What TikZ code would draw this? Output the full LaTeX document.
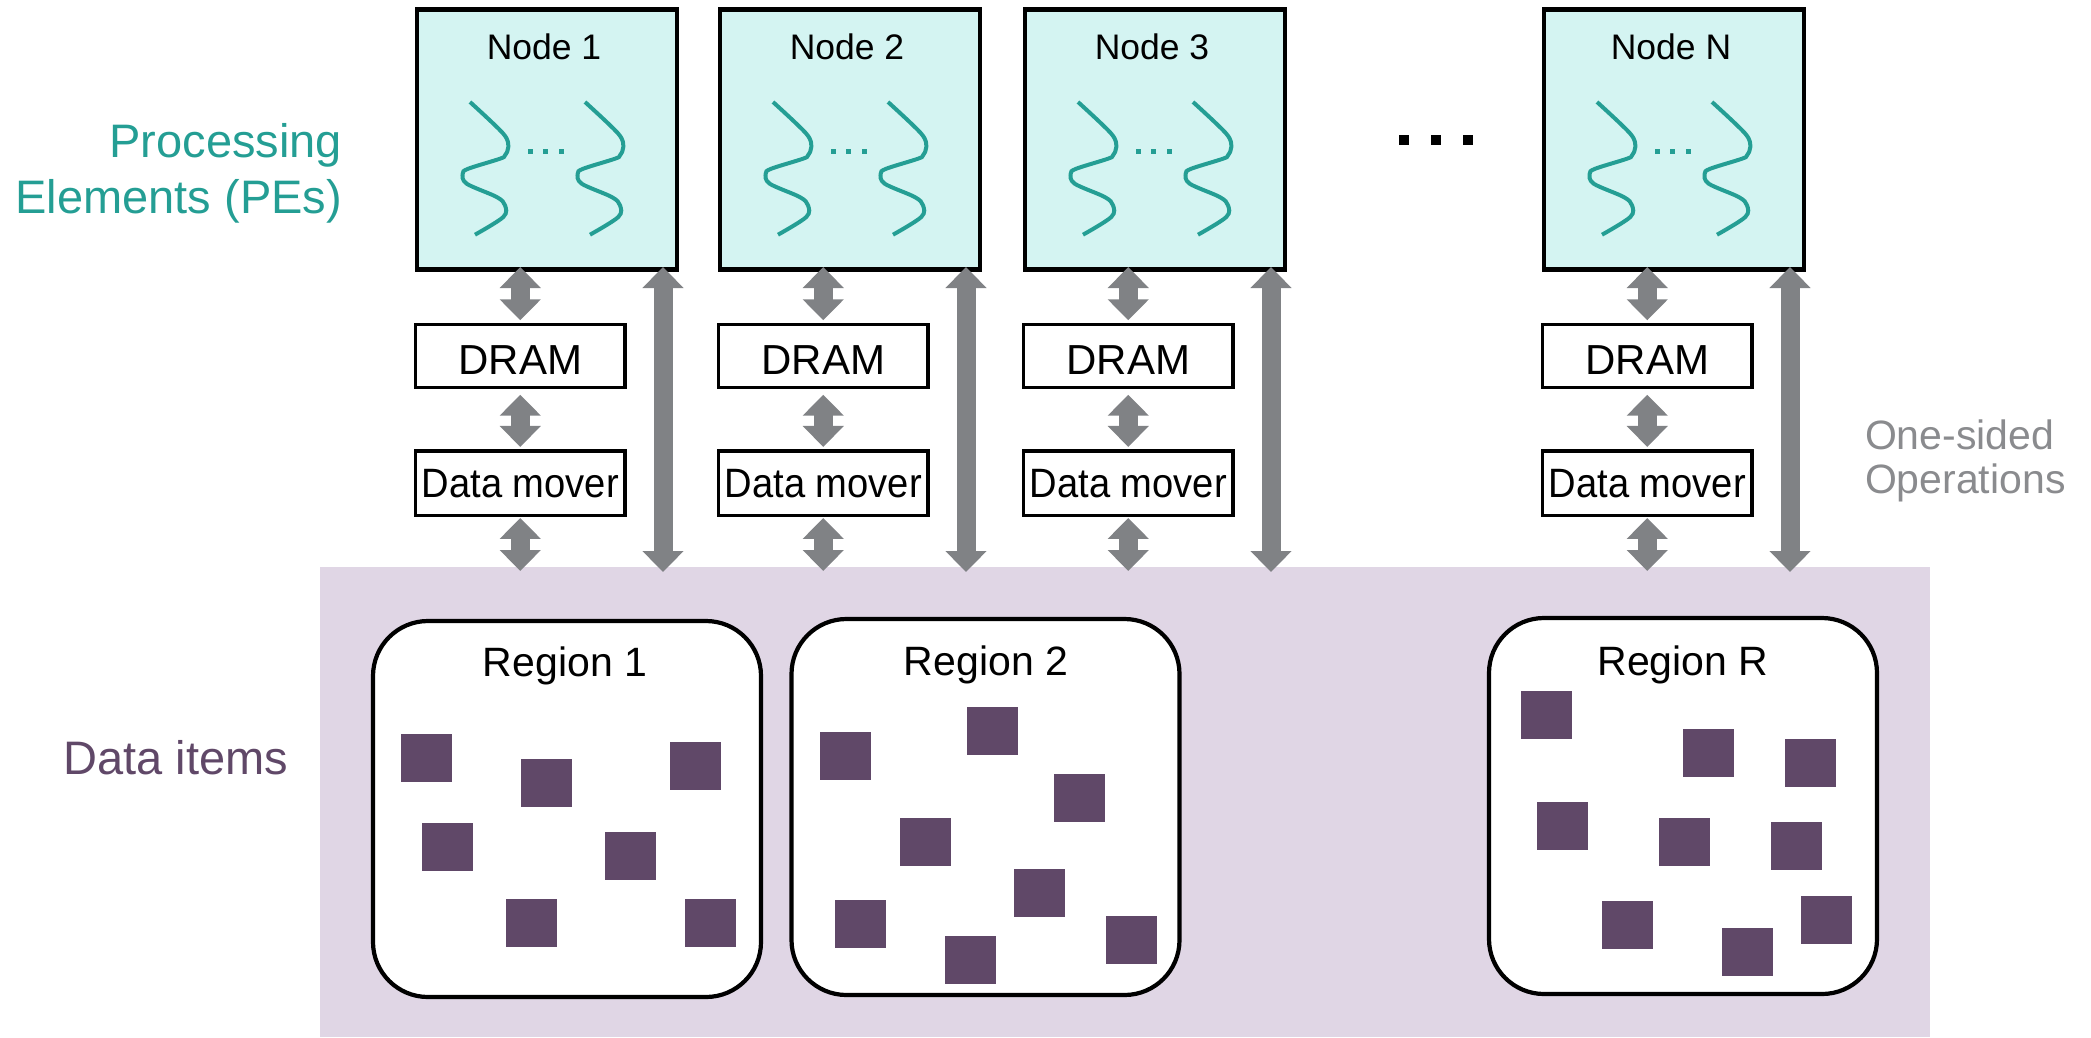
\documentclass[tikz,border=0pt]{standalone}
\usepackage{fontspec}
\usepackage{graphicx}
\setmainfont{Liberation Sans}
\usetikzlibrary{arrows.meta}
\definecolor{tealc}{RGB}{36,158,148}
\definecolor{pefill}{RGB}{212,244,242}
\definecolor{bgc}{RGB}{224,214,229}
\definecolor{itemc}{RGB}{96,72,104}
\definecolor{arrowc}{RGB}{128,130,133}
\definecolor{opc}{RGB}{138,139,142}
\begin{document}
\begin{tikzpicture}[x=1pt,y=-1pt,
 pebox/.style={draw=black, line width=4.5pt, fill=pefill, minimum width=260pt, minimum height=260pt, inner sep=0pt, outer sep=0pt},
 membox/.style={draw=black, line width=3.5pt, fill=white, minimum width=209.5pt, inner sep=0pt, outer sep=0pt},
 regionbox/.style={draw=black, line width=4.2pt, fill=white, rounded corners=55pt, minimum width=388pt, minimum height=376pt, inner sep=0pt, outer sep=0pt},
 txt/.style={inner sep=0pt, outer sep=0pt},
 dbl/.style={draw=arrowc, line width=19pt, {Triangle[width=40pt,length=21pt]}-{Triangle[width=40pt,length=21pt]}},
 wave/.style={draw=tealc, line width=4pt},
 item/.style={fill=itemc},
]
\useasboundingbox (0,0) rectangle (2091,1037);
% background band of data items
\node[fill=bgc, minimum width=1610pt, minimum height=470pt, inner sep=0pt, outer sep=0pt, anchor=north west] (bg) at (320,567) {};

% side labels
\node[txt, anchor=base east, text=tealc, font=\fontsize{47}{56}\selectfont] (pel1) at (342,157) {Processing};
\node[txt, anchor=base east, text=tealc, font=\fontsize{47}{56}\selectfont] (pel2) at (342,213) {Elements (PEs)};
\node[txt, anchor=base east, text=itemc, font=\fontsize{47}{56}\selectfont] (dil) at (288,774) {Data items};
\node[txt, anchor=base west, text=opc, font=\fontsize{41}{44}\selectfont] (op1) at (1865,449) {One-sided};
\node[txt, anchor=base west, text=opc, font=\fontsize{41}{44}\selectfont] (op2) at (1865,493) {Operations};

% big ellipsis between node 3 and node N
\fill (1399,135) rectangle +(10,10);
\fill (1431,135) rectangle +(10,10);
\fill (1463,135) rectangle +(10,10);

\foreach \i/\L in {1/415,2/718,3/1023,N/1542}{
  \node[pebox] (pe\i) at (\L+132,139.5) {};
  \node[txt, anchor=base, font=\fontsize{35.5}{40}\selectfont] (pet\i) at (\L+129,59) {Node \i};
  \draw[wave, shift={(\L+55,102)}] plot[smooth,tension=0.55] coordinates {(0,0) (33.3,31.7) (38.3,45) (35,53.3) (30,56.7) (-1.7,66.7) (-7.3,71.7) (-3.3,81.7) (26.7,95) (35,103.3) (33.3,115) (5,132.7)};
  \draw[wave, shift={(\L+170,102)}] plot[smooth,tension=0.55] coordinates {(0,0) (33.3,31.7) (38.3,45) (35,53.3) (30,56.7) (-1.7,66.7) (-7.3,71.7) (-3.3,81.7) (26.7,95) (35,103.3) (33.3,115) (5,132.7)};
  \fill[tealc] (\L+113.2,148.5) rectangle +(5,5);
  \fill[tealc] (\L+128.2,148.5) rectangle +(5,5);
  \fill[tealc] (\L+143.5,148.5) rectangle +(5,5);
  \node[membox, minimum height=63.4pt, text height=37pt, font=\fontsize{42}{48}\selectfont] (dram\i) at (\L+105.25,356) {DRAM};
  \node[membox, minimum height=64.7pt, font=\fontsize{41}{48}\selectfont] (dm\i) at (\L+105.25,483.3) {\scalebox{0.93}[1]{Data mover}};
  \coordinate (la\i) at ([xshift=-14pt]pe\i.south east);
  \draw[dbl, shorten <=-2.5pt, shorten >=4pt] (dram\i.north |- pe\i.south) -- (dram\i.north);
  \draw[dbl, shorten <=7pt, shorten >=4pt] (dram\i.south) -- (dm\i.north);
  \draw[dbl, shorten <=2.3pt, shorten >=-4pt] (dm\i.south) -- (dm\i.south |- bg.north);
  \draw[dbl, shorten <=-2.5pt, shorten >=-5pt] (la\i) -- (la\i |- bg.north);
}

% regions
\node[regionbox] (reg1) at (567,809) {};
\node[regionbox] (reg2) at (985.5,807) {};
\node[regionbox] (regR) at (1683,806) {};
\node[txt, anchor=base, font=\fontsize{41}{48}\selectfont] (regt1) at (565,676) {Region 1};
\node[txt, anchor=base, font=\fontsize{41}{48}\selectfont] (regt2) at (986,675) {Region 2};
\node[txt, anchor=base, font=\fontsize{41}{48}\selectfont] (regtR) at (1683,675) {Region R};

% data items
\foreach \x/\y in {401/734,521/759,670/742,422/823,605/832,506/899,685/899,
                   820/732,967/707,1054/774,900/818,1014/869,835/900,945/936,1106/916,
                   1521/691,1683/729,1785/739,1537/802,1659/818,1771/822,1602/901,1722/928,1801/896}{
  \fill[item] (\x,\y) rectangle +(51,48);
}
\end{tikzpicture}
\end{document}
